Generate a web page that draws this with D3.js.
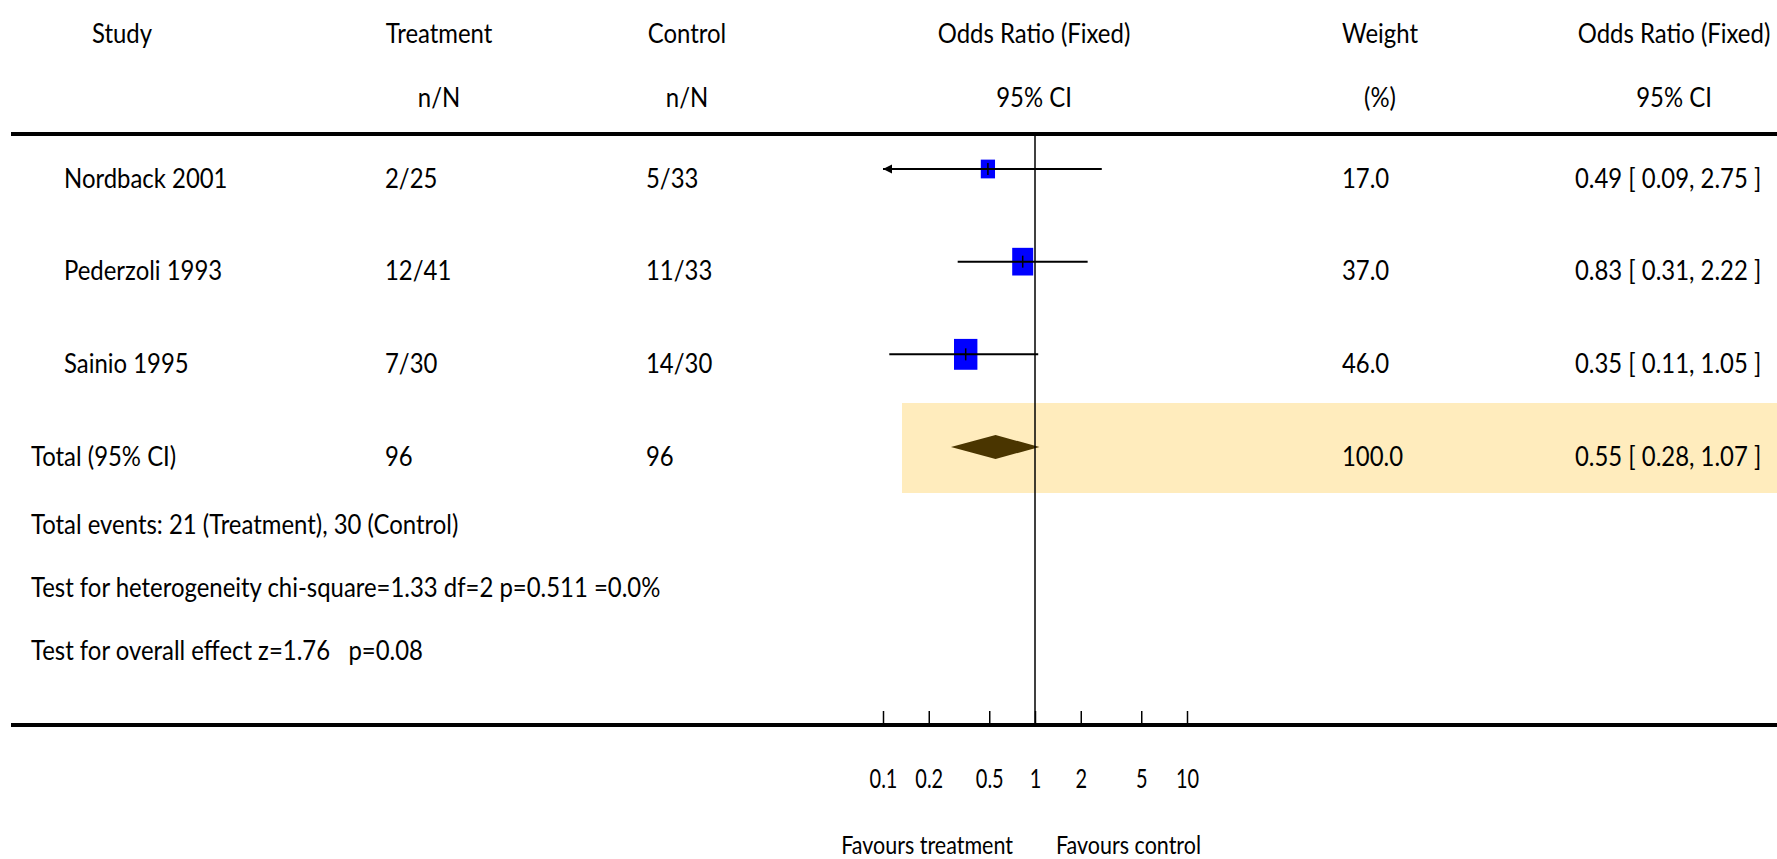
<!DOCTYPE html>
<html>
<head>
<meta charset="utf-8">
<script src="https://cdn.jsdelivr.net/npm/d3@7/dist/d3.min.js"></script>
<style>
  html, body { margin: 0; padding: 0; background: #fff; }
  svg { display: block; }
  text { font-family: Lato, "Noto Sans", sans-serif; fill: #000; white-space: pre; }
</style>
</head>
<body>
<svg id="chart" width="1777" height="859"></svg>
<script>
// ---------- data ----------
const studies   = ["Nordback 2001", "Pederzoli 1993", "Sainio 1995"];
const treatment = ["2/25", "12/41", "7/30"];
const control   = ["5/33", "11/33", "14/30"];
const weights   = [17.0, 37.0, 46.0];
const orValues  = [0.49, 0.83, 0.35];
const ciLow     = [0.09, 0.31, 0.11];
const ciHigh    = [2.75, 2.22, 1.05];

const totalLabel     = "Total (95% CI)";
const totalTreatment = "96";
const totalControl   = "96";
const totalWeight    = 100.0;
const totalOR        = [0.55, 0.28, 1.07]; // estimate, low, high

const footnotes = [
  "Total events: 21 (Treatment), 30 (Control)",
  "Test for heterogeneity chi-square=1.33 df=2 p=0.511 =0.0%",
  "Test for overall effect z=1.76   p=0.08"
];

const headerLine1 = ["Study", "Treatment", "Control", "Odds Ratio (Fixed)", "Weight", "Odds Ratio (Fixed)"];
const headerLine2 = ["", "n/N", "n/N", "95% CI", "(%)", "95% CI"];

const tickValues = [0.1, 0.2, 0.5, 1, 2, 5, 10];
const tickLabels = ["0.1", "0.2", "0.5", "1", "2", "5", "10"];
const favourLabels = ["Favours treatment", "Favours control"];

// ---------- layout ----------
const W = 1777, H = 859;
const FS = 26, SX = 0.92;
const svg = d3.select("#chart");

const x = d3.scaleLog().domain([0.1, 10]).range([883, 1187]);
const rowY = d3.scaleLinear().domain([0, 3]).range([169, 447]);
const textOff = 9.5;
const sqW = d3.scaleSqrt().domain([0, 100]).range([0, 34.5]);
const sqH = d3.scaleSqrt().domain([0, 100]).range([0, 45.5]);

const headerCenters = [122, 439, 687, 1034, 1380, 1674];
const colLeft = { study: 64, total: 31, treat: 385, ctrl: 646, weight: 1342, or: 1575 };

const fmtOR = (v) => d3.format(".2f")(v);
const ciText = (o, l, h) => `${fmtOR(o)} [ ${fmtOR(l)}, ${fmtOR(h)} ]`;

// helper to place a condensed text
function label(parent, tx, ty, str, anchor = "start", fs = FS, sx = SX) {
  return parent.append("text")
    .attr("transform", `translate(${tx},${ty}) scale(${sx},1)`)
    .attr("dy", "0.35em")
    .attr("font-size", fs)
    .attr("text-anchor", anchor)
    .text(str);
}

// highlight box for total row
svg.append("rect")
  .attr("x", 902).attr("y", 403)
  .attr("width", W - 902).attr("height", 90)
  .attr("fill", "#FFECBD");

// headers
const hdr = svg.append("g");
headerLine1.forEach((t, i) => label(hdr, headerCenters[i], 34, t, "middle"));
headerLine2.forEach((t, i) => { if (t) label(hdr, headerCenters[i], 98, t, "middle"); });

// horizontal rules
svg.append("line").attr("x1", 11).attr("x2", W).attr("y1", 134).attr("y2", 134)
  .attr("stroke", "#000").attr("stroke-width", 4);
svg.append("line").attr("x1", 11).attr("x2", W).attr("y1", 725).attr("y2", 725)
  .attr("stroke", "#000").attr("stroke-width", 4);

// study rows text
const rows = svg.append("g");
studies.forEach((s, i) => {
  const ty = rowY(i) + textOff;
  label(rows, colLeft.study, ty, s);
  label(rows, colLeft.treat, ty, treatment[i]);
  label(rows, colLeft.ctrl, ty, control[i]);
  label(rows, colLeft.weight, ty, d3.format(".1f")(weights[i]));
  label(rows, colLeft.or, ty, ciText(orValues[i], ciLow[i], ciHigh[i]));
});

// total row text
const tty = rowY(3) + textOff;
label(rows, colLeft.total, tty, totalLabel);
label(rows, colLeft.treat, tty, totalTreatment);
label(rows, colLeft.ctrl, tty, totalControl);
label(rows, colLeft.weight, tty, d3.format(".1f")(totalWeight));
label(rows, colLeft.or, tty, ciText(...totalOR));

// footnotes
const fg = svg.append("g");
footnotes.forEach((t, i) => label(fg, 31, [525, 588, 651][i], t));

// squares, then CI lines with clipping + arrows on top
const [dMin, dMax] = x.domain();
const marks = svg.append("g");
studies.forEach((s, i) => {
  const y = rowY(i);
  const w = sqW(weights[i]), h = sqH(weights[i]);
  marks.append("rect").attr("x", x(orValues[i]) - w / 2).attr("y", y - h / 2)
    .attr("width", w).attr("height", h).attr("fill", "#0000FF");
  const lo = Math.max(ciLow[i], dMin), hi = Math.min(ciHigh[i], dMax);
  marks.append("line").attr("x1", x(lo)).attr("x2", x(hi)).attr("y1", y).attr("y2", y)
    .attr("stroke", "#000").attr("stroke-width", 2);
  if (ciLow[i] < dMin) {
    const ax = x(dMin);
    marks.append("path").attr("d", `M${ax},${y} L${ax + 9},${y - 4.5} L${ax + 9},${y + 4.5} Z`).attr("fill", "#000");
  }
  if (ciHigh[i] > dMax) {
    const ax = x(dMax);
    marks.append("path").attr("d", `M${ax},${y} L${ax - 9},${y - 4.5} L${ax - 9},${y + 4.5} Z`).attr("fill", "#000");
  }
  marks.append("line").attr("x1", x(orValues[i])).attr("x2", x(orValues[i]))
    .attr("y1", y - 6).attr("y2", y + 6).attr("stroke", "#000").attr("stroke-width", 1.5);
});

// diamond for total
const dy0 = rowY(3);
marks.append("path")
  .attr("d", `M${x(totalOR[1])},${dy0} L${x(totalOR[0])},${dy0 - 12} L${x(totalOR[2])},${dy0} L${x(totalOR[0])},${dy0 + 12} Z`)
  .attr("fill", "#4A3500");

// vertical line of no effect
svg.append("line").attr("x1", x(1)).attr("x2", x(1)).attr("y1", 134).attr("y2", 723)
  .attr("stroke", "#000").attr("stroke-width", 1.5);

// axis
const axis = d3.axisBottom(x).tickValues(tickValues)
  .tickFormat((d, i) => tickLabels[i]).tickSize(-12).tickPadding(46);
const ag = svg.append("g").attr("transform", "translate(0,723)").call(axis);
ag.select(".domain").remove();
ag.selectAll(".tick line").attr("stroke", "#000").attr("stroke-width", 1.5);
ag.selectAll(".tick text").attr("font-size", 27).attr("font-family", "Lato, sans-serif")
  .attr("fill", "#000").attr("transform", "scale(0.74,1)");

// favours labels
label(svg, x(1) - 22, 845, favourLabels[0], "end", 25, 0.86);
label(svg, x(1) + 21, 845, favourLabels[1], "start", 25, 0.86);
</script>
</body>
</html>
